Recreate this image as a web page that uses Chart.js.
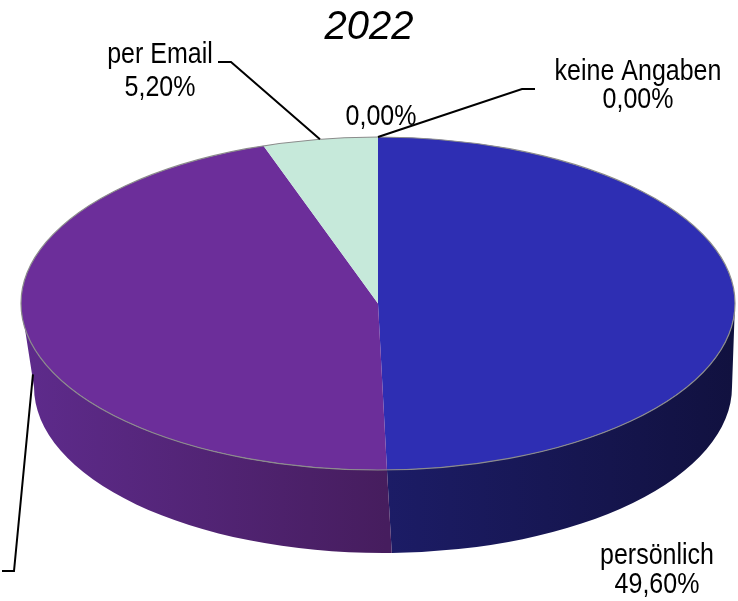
<!DOCTYPE html>
<html>
<head>
<meta charset="utf-8">
<script src="https://cdn.jsdelivr.net/npm/chart.js@4.4.0/dist/chart.umd.min.js"></script>
<style>
  html, body { margin: 0; padding: 0; background: #fff; }
  #wrap { width: 738px; height: 601px; }
</style>
</head>
<body>
<div id="wrap"><canvas id="pieChart"></canvas></div>
<script>
// Data
const chartTitle = '2022';
const categories = ['persönlich', 'telefonisch', 'per Email', '', 'keine Angaben'];
const shares = [49.6, 45.2, 5.2, 0, 0];
const shareLabels = ['49,60%', '45,20%', '5,20%', '0,00%', '0,00%'];

// styling
const topColors = ['#2e2eb3', '#6c2e9a', '#c6e9da', '#c6e9da', '#c6e9da'];
const sideColors = [['#1c1c66', '#11113f'], ['#5e2b8c', '#461d5e'], ['#9fc4b5', '#8fb3a4'], ['#9fc4b5', '#8fb3a4'], ['#9fc4b5', '#8fb3a4']];

// the top face of the "3D" pie and the lower rim of its side wall (ellipses)
const TOP = { x: 378, y: 303.5, rx: 357, ry: 166.5 };
const BOT = { x: 383, y: 387, rx: 349, ry: 166 };

// where the labels sit (leader elbow/end, text centre, baselines)
const labelLayout = [
  { tx: 657, lines: [564, 593] },
  { tx: -70, lines: [563, 592], drop: 0.5, elbow: [14, 571], end: [2, 571] },
  { tx: 160, lines: [63, 96], drop: 0, elbow: [231, 62], end: [218, 62] },
  { tx: 381, lines: [125] },
  { tx: 638, lines: [80, 108], drop: 0, elbow: [522, 89], end: [535, 89] }
];

function onTop(t) {
  return [TOP.x + TOP.rx * Math.cos(t), TOP.y + TOP.ry * Math.sin(t)];
}
function onBottom(t) {
  return [BOT.x + BOT.rx * Math.cos(t), BOT.y + BOT.ry * Math.sin(t)];
}

const pie3d = {
  id: 'pie3d',
  beforeDatasetsDraw(chart) {
    const ctx = chart.ctx;
    const arcs = chart.getDatasetMeta(0).data;

    // side walls first: only the front half (0..PI) can be seen
    arcs.forEach((arc, i) => {
      if (!arc.circumference) return;
      const a0 = Math.max(arc.startAngle, 0);
      const a1 = Math.min(arc.endAngle, Math.PI);
      if (a1 <= a0) return;
      const p0 = onTop(a0), p1 = onTop(a1);
      const grad = ctx.createLinearGradient(Math.min(p0[0], p1[0]), 0, Math.max(p0[0], p1[0]), 0);
      grad.addColorStop(0, sideColors[i][0]);
      grad.addColorStop(1, sideColors[i][1]);
      ctx.save();
      ctx.beginPath();
      ctx.ellipse(TOP.x, TOP.y, TOP.rx, TOP.ry, 0, a0, a1, false);
      ctx.ellipse(BOT.x, BOT.y, BOT.rx, BOT.ry, 0, a1, a0, true);
      ctx.closePath();
      ctx.fillStyle = grad;
      ctx.fill();
      ctx.restore();
    });

    // top face: the library's own arcs, squashed into the ellipse
    arcs.forEach(arc => {
      const r = arc.outerRadius;
      ctx.save();
      ctx.translate(TOP.x, TOP.y);
      ctx.scale(TOP.rx / r, TOP.ry / r);
      ctx.translate(-arc.x, -arc.y);
      arc.draw(ctx);
      ctx.restore();
    });

    // thin grey rim round the top face
    ctx.save();
    ctx.beginPath();
    ctx.ellipse(TOP.x, TOP.y, TOP.rx, TOP.ry, 0, 0, Math.PI * 2);
    ctx.strokeStyle = '#8c8c8c';
    ctx.lineWidth = 1.2;
    ctx.stroke();
    ctx.restore();
    return false;
  },
  afterDraw(chart) {
    const ctx = chart.ctx;
    const arcs = chart.getDatasetMeta(0).data;
    ctx.save();
    ctx.strokeStyle = '#000';
    ctx.lineWidth = 2;
    ctx.fillStyle = '#000';
    ctx.font = '25px "Liberation Sans", Arial, sans-serif';
    ctx.textAlign = 'center';
    ctx.textBaseline = 'alphabetic';
    arcs.forEach((arc, i) => {
      const lay = labelLayout[i];
      if (lay.elbow) {
        const mid = (arc.startAngle + arc.endAngle) / 2;
        const a = onTop(mid), b = onBottom(mid);
        const ax = a[0] + (b[0] - a[0]) * lay.drop;
        const ay = a[1] + (b[1] - a[1]) * lay.drop;
        ctx.beginPath();
        ctx.moveTo(ax, ay);
        ctx.lineTo(lay.elbow[0], lay.elbow[1]);
        ctx.lineTo(lay.end[0], lay.end[1]);
        ctx.stroke();
      }
      const txt = categories[i] ? [categories[i], shareLabels[i]] : [shareLabels[i]];
      txt.forEach((t, k) => {
        // the original labels are a little taller than wide
        ctx.save();
        ctx.translate(lay.tx, lay.lines[k]);
        ctx.scale(1, 1.2);
        ctx.fillText(t, 0, 0);
        ctx.restore();
      });
    });
    ctx.restore();
  }
};

const ctx = document.getElementById('pieChart').getContext('2d');
const pieChart = new Chart(ctx, {
  type: 'pie',
  data: {
    labels: categories,
    datasets: [{
      data: shares,
      backgroundColor: topColors,
      borderWidth: 0
    }]
  },
  options: {
    responsive: true,
    maintainAspectRatio: false,
    animation: false,
    layout: { padding: { top: 0, bottom: 10, left: 20, right: 20 } },
    plugins: {
      legend: { display: false },
      tooltip: { enabled: false },
      title: {
        display: true,
        text: chartTitle,
        color: '#000',
        padding: { top: 4, bottom: 0 },
        font: { family: '"Liberation Sans", Arial, sans-serif', size: 40, style: 'italic', weight: 'normal', lineHeight: 1.2 }
      }
    }
  },
  plugins: [pie3d]
});
</script>
</body>
</html>
